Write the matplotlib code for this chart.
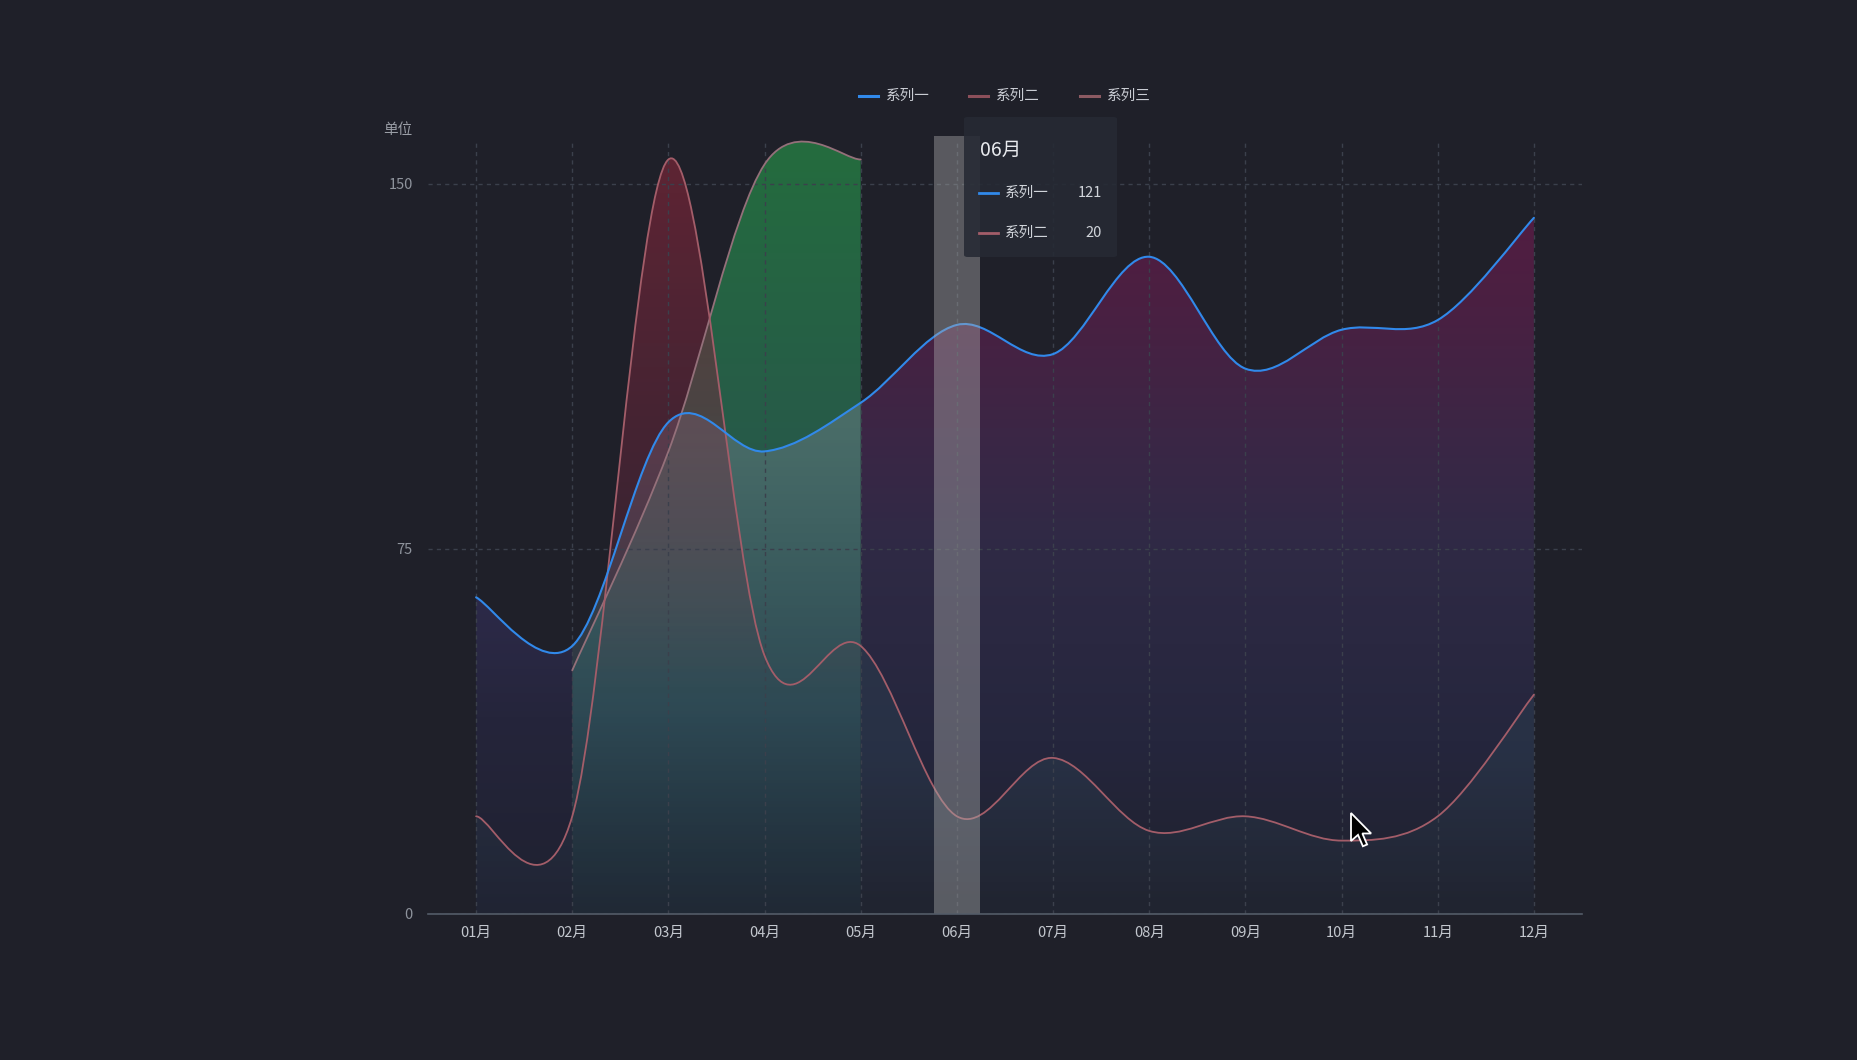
import matplotlib

matplotlib.use("Agg")
import matplotlib.pyplot as plt
import numpy as np
from matplotlib.colors import LinearSegmentedColormap, to_rgba
from matplotlib.lines import Line2D
from matplotlib.patches import FancyBboxPatch, PathPatch, Polygon, Rectangle
from matplotlib.path import Path
from matplotlib.transforms import IdentityTransform

plt.rcParams["font.family"] = ["Noto Sans CJK SC", "DejaVu Sans"]

# --- datos del gráfico ---
months = ["01月", "02月", "03月", "04月", "05月", "06月",
          "07月", "08月", "09月", "10月", "11月", "12月"]
series_names = ["系列一", "系列二", "系列三"]
series_one = [65, 55, 101, 95, 105, 121, 115, 135, 112, 120, 122, 143]
series_two = [20, 20, 155, 53, 55, 20, 32, 17, 20, 15, 20, 45]
series_three = [50, 95, 154, 155]  # 02月 .. 05月
three_start = 1
y_ticks = [0, 75, 150]
y_max = 159
y_unit = "单位"
hover_index = 5

BG = "#1f2029"
BLUE = "#3189ea"
RED = "#a35d69"
GRAY_RED = "#94707a"
LEGEND_COLORS = [BLUE, "#8c4f5a", "#8c5a62"]

W, H = 1858, 1060
AX_L, AX_R, AX_T, AX_B = 428, 1582, 140, 913.6


def fx(x):
    return x / W


def fy(y):
    return 1 - y / H


fig = plt.figure(figsize=(W / 100, H / 100), dpi=100)
fig.patch.set_facecolor(BG)
ax = fig.add_axes([fx(AX_L), fy(AX_B), (AX_R - AX_L) / W, (AX_B - AX_T) / H])
ax.set_facecolor(BG)


def smooth_verts(xs, ys):
    """Curva suave tipo cardinal (tensión 0) expresada como Bézier cúbicas."""
    pts = np.column_stack([np.asarray(xs, float), np.asarray(ys, float)])
    n = len(pts)
    ext = np.vstack([pts[:1], pts, pts[-1:]])
    verts = [pts[0]]
    for i in range(n - 1):
        p0, p1, p2, p3 = ext[i], ext[i + 1], ext[i + 2], ext[i + 3]
        verts += [p1 + (p2 - p0) / 6, p2 - (p3 - p1) / 6, p2]
    return np.array(verts)


def line_path(verts):
    codes = [Path.MOVETO] + [Path.CURVE4] * (len(verts) - 1)
    return Path(verts, codes)


def area_path(verts, a, b):
    seg = verts[3 * a: 3 * b + 1]
    pts = np.vstack([[seg[0][0], 0], seg, [seg[-1][0], 0], [seg[0][0], 0]])
    codes = [Path.MOVETO, Path.LINETO] + [Path.CURVE4] * (len(seg) - 1) + [Path.LINETO, Path.CLOSEPOLY]
    return Path(pts, codes)


def gradient_fill(verts, a, b, stops, z):
    cmap = LinearSegmentedColormap.from_list(
        "g", [(v / y_max, to_rgba(c, al)) for v, c, al in stops])
    x0, x1 = verts[3 * a][0], verts[3 * b][0]
    im = ax.imshow(np.linspace(0, 1, 256).reshape(-1, 1), cmap=cmap,
                   extent=[x0, x1, 0, y_max], origin="lower", aspect="auto",
                   zorder=z, interpolation="bilinear")
    patch = PathPatch(area_path(verts, a, b), transform=ax.transData,
                      facecolor="none", edgecolor="none")
    im.set_clip_path(patch)


x_all = np.arange(len(months))
v_one = smooth_verts(x_all, series_one)
v_two = smooth_verts(x_all, series_two)
v_three = smooth_verts(x_all[three_start:three_start + len(series_three)], series_three)

# áreas (degradados verticales)
gradient_fill(v_one, 0, 1, [(0, "#1f2130", 1), (40, "#25253b", 1), (70, "#2e2b4c", 1),
                            (y_max, "#2e2b4c", 1)], 1.0)
gradient_fill(v_one, 4, 11, [(0, "#1f212c", 1), (35, "#25263d", 1), (75, "#2f2a45", 1),
                             (100, "#3c2645", 1), (125, "#4a2042", 1), (y_max, "#581b40", 1)], 1.0)
gradient_fill(v_two, 0, 1, [(0, "#2a3848", 0.15), (30, "#2c3f50", 0.45), (y_max, "#2c4050", 0.55)], 1.1)
gradient_fill(v_two, 4, 11, [(0, "#2a3848", 0.15), (30, "#2c3f50", 0.45), (y_max, "#2c4050", 0.55)], 1.1)
gradient_fill(v_three, 0, 3, [(0, "#1f2430", 1), (40, "#223a44", 1), (90, "#27584a", 1),
                              (y_max, "#246c3e", 1)], 1.2)
gradient_fill(v_one, 1, 4, [(0, "#2a4a58", 0.15), (40, "#4a6a78", 0.3), (100, "#7a8494", 0.42),
                            (y_max, "#7a8494", 0.45)], 1.3)
gradient_fill(v_two, 1, 4, [(0, "#7a2a40", 0), (45, "#7a2a40", 0), (80, "#742a42", 0.35),
                            (155, "#7a2638", 0.7), (y_max, "#7a2638", 0.7)], 1.4)

# líneas
for verts, color, lw in [(v_three, GRAY_RED, 1.3), (v_two, RED, 1.3), (v_one, BLUE, 1.5)]:
    ax.add_patch(PathPatch(line_path(verts), fill=False, edgecolor=color, lw=lw,
                           zorder=3, joinstyle="round", capstyle="round"))

# sombra del puntero
ax.add_patch(Rectangle((hover_index - 0.24, 0), 0.48, y_max + 0.8, facecolor="#aaaaaa",
                       alpha=0.42, edgecolor="none", zorder=4, clip_on=False))

ax.set_xlim(-0.5, len(months) - 0.5)
ax.set_ylim(0, y_max)
ax.set_xticks(x_all)
ax.set_xticklabels(months)
ax.set_yticks(y_ticks)
ax.set_yticklabels([str(t) for t in y_ticks])
ax.grid(True, axis="both", color="#3b404c", lw=1, ls=(0, (3, 3)))
ax.tick_params(axis="x", length=0, pad=9, colors="#c3c7ce", labelsize=10.5)
ax.tick_params(axis="y", length=0, pad=11, colors="#8e939c", labelsize=10.5)
for side in ["top", "right", "left"]:
    ax.spines[side].set_visible(False)
ax.spines["bottom"].set_color("#535c68")
ax.spines["bottom"].set_linewidth(1.2)
ax.spines["bottom"].set_zorder(5)

fig.text(fx(398), fy(130), y_unit, color="#9a9ea6", fontsize=10.5, ha="center", va="center")

# leyenda
legend_x = [859, 969, 1080]
for name, color, lx in zip(series_names, LEGEND_COLORS, legend_x):
    fig.add_artist(Line2D([fx(lx), fx(lx + 19)], [fy(96), fy(96)], color=color, lw=2.2,
                          transform=fig.transFigure))
    fig.text(fx(lx + 27), fy(96), name, color="#c9ccd3", fontsize=10.5, ha="left", va="center")

# tooltip
tip = FancyBboxPatch((fx(964), fy(257)), 153 / W, 140 / H, boxstyle="round,pad=0,rounding_size=0.002",
                     transform=fig.transFigure, facecolor="#262a34", edgecolor="none",
                     alpha=0.88, zorder=5)
fig.add_artist(tip)
fig.text(fx(980), fy(150), months[hover_index], color="#e8eaee", fontsize=14,
         ha="left", va="center", zorder=6)
rows = [(series_names[0], BLUE, series_one[hover_index], 193),
        (series_names[1], RED, series_two[hover_index], 233)]
for name, color, val, ry in rows:
    fig.add_artist(Line2D([fx(979), fx(998)], [fy(ry), fy(ry)], color=color, lw=2,
                          transform=fig.transFigure, zorder=6))
    fig.text(fx(1005), fy(ry), name, color="#d0d4da", fontsize=10.5, ha="left", va="center", zorder=6)
    fig.text(fx(1102), fy(ry), str(val), color="#d0d4da", fontsize=10.5, ha="right", va="center", zorder=6)

# cursor del ratón
tip_x, tip_y, s = 1351, H - 813, 1.75
arrow = [(0, 0), (0, 16), (4, 12.5), (6.8, 19), (9.2, 18), (6.5, 11.7), (11.5, 11.7)]
fig.add_artist(Polygon([(tip_x + s * u, tip_y - s * v) for u, v in arrow], closed=True,
                       facecolor="black", edgecolor="white", lw=1.3,
                       transform=IdentityTransform(), zorder=7))

fig.savefig("out.png", dpi=100, facecolor=BG)
